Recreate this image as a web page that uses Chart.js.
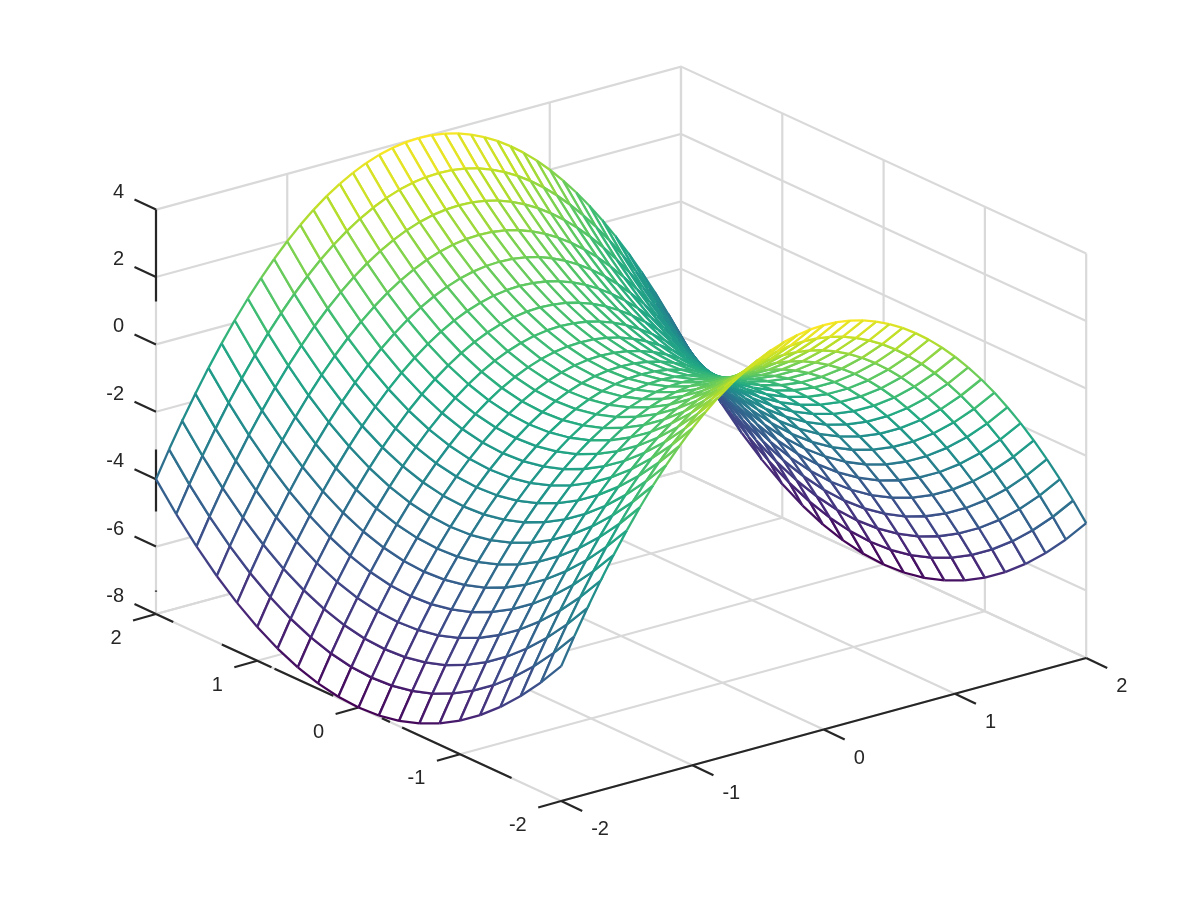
<!DOCTYPE html>
<html>
<head>
<meta charset="utf-8">
<title>Mesh</title>
<script src="https://cdn.jsdelivr.net/npm/chart.js@4"></script>
<style>
    html, body { margin: 0; padding: 0; background: #fff; }
    #wrap { width: 1200px; height: 900px; }
</style>
</head>
<body>
<div id="wrap"><canvas id="mesh" width="1200" height="900"></canvas></div>
<script>
/* ---- data ---- */
const xValues = [-2, -1.9, -1.8, -1.7, -1.6, -1.5, -1.4, -1.3, -1.2, -1.1, -1, -0.9, -0.8, -0.7, -0.6, -0.5, -0.4, -0.3, -0.2, -0.1, 0, 0.1, 0.2, 0.3, 0.4, 0.5, 0.6, 0.7, 0.8, 0.9, 1, 1.1, 1.2, 1.3, 1.4, 1.5, 1.6, 1.7, 1.8, 1.9, 2];
const yValues = [-2, -1.8, -1.6, -1.4, -1.2, -1, -0.8, -0.6, -0.4, -0.2, 0, 0.2, 0.4, 0.6, 0.8, 1, 1.2, 1.4, 1.6, 1.8, 2];
// z along x, one list per |y| (the picture looks the same on both sides of y=0)
const zAtY20 = [-4, -3.22, -2.48, -1.78, -1.12, -0.5, 0.08, 0.62, 1.12, 1.58, 2, 2.38, 2.72, 3.02, 3.28, 3.5, 3.68, 3.82, 3.92, 3.98, 4, 3.98, 3.92, 3.82, 3.68, 3.5, 3.28, 3.02, 2.72, 2.38, 2, 1.58, 1.12, 0.62, 0.08, -0.5, -1.12, -1.78, -2.48, -3.22, -4];
const zAtY18 = [-4.76, -3.98, -3.24, -2.54, -1.88, -1.26, -0.68, -0.14, 0.36, 0.82, 1.24, 1.62, 1.96, 2.26, 2.52, 2.74, 2.92, 3.06, 3.16, 3.22, 3.24, 3.22, 3.16, 3.06, 2.92, 2.74, 2.52, 2.26, 1.96, 1.62, 1.24, 0.82, 0.36, -0.14, -0.68, -1.26, -1.88, -2.54, -3.24, -3.98, -4.76];
const zAtY16 = [-5.44, -4.66, -3.92, -3.22, -2.56, -1.94, -1.36, -0.82, -0.32, 0.14, 0.56, 0.94, 1.28, 1.58, 1.84, 2.06, 2.24, 2.38, 2.48, 2.54, 2.56, 2.54, 2.48, 2.38, 2.24, 2.06, 1.84, 1.58, 1.28, 0.94, 0.56, 0.14, -0.32, -0.82, -1.36, -1.94, -2.56, -3.22, -3.92, -4.66, -5.44];
const zAtY14 = [-6.04, -5.26, -4.52, -3.82, -3.16, -2.54, -1.96, -1.42, -0.92, -0.46, -0.04, 0.34, 0.68, 0.98, 1.24, 1.46, 1.64, 1.78, 1.88, 1.94, 1.96, 1.94, 1.88, 1.78, 1.64, 1.46, 1.24, 0.98, 0.68, 0.34, -0.04, -0.46, -0.92, -1.42, -1.96, -2.54, -3.16, -3.82, -4.52, -5.26, -6.04];
const zAtY12 = [-6.56, -5.78, -5.04, -4.34, -3.68, -3.06, -2.48, -1.94, -1.44, -0.98, -0.56, -0.18, 0.16, 0.46, 0.72, 0.94, 1.12, 1.26, 1.36, 1.42, 1.44, 1.42, 1.36, 1.26, 1.12, 0.94, 0.72, 0.46, 0.16, -0.18, -0.56, -0.98, -1.44, -1.94, -2.48, -3.06, -3.68, -4.34, -5.04, -5.78, -6.56];
const zAtY10 = [-7, -6.22, -5.48, -4.78, -4.12, -3.5, -2.92, -2.38, -1.88, -1.42, -1, -0.62, -0.28, 0.02, 0.28, 0.5, 0.68, 0.82, 0.92, 0.98, 1, 0.98, 0.92, 0.82, 0.68, 0.5, 0.28, 0.02, -0.28, -0.62, -1, -1.42, -1.88, -2.38, -2.92, -3.5, -4.12, -4.78, -5.48, -6.22, -7];
const zAtY08 = [-7.36, -6.58, -5.84, -5.14, -4.48, -3.86, -3.28, -2.74, -2.24, -1.78, -1.36, -0.98, -0.64, -0.34, -0.08, 0.14, 0.32, 0.46, 0.56, 0.62, 0.64, 0.62, 0.56, 0.46, 0.32, 0.14, -0.08, -0.34, -0.64, -0.98, -1.36, -1.78, -2.24, -2.74, -3.28, -3.86, -4.48, -5.14, -5.84, -6.58, -7.36];
const zAtY06 = [-7.64, -6.86, -6.12, -5.42, -4.76, -4.14, -3.56, -3.02, -2.52, -2.06, -1.64, -1.26, -0.92, -0.62, -0.36, -0.14, 0.04, 0.18, 0.28, 0.34, 0.36, 0.34, 0.28, 0.18, 0.04, -0.14, -0.36, -0.62, -0.92, -1.26, -1.64, -2.06, -2.52, -3.02, -3.56, -4.14, -4.76, -5.42, -6.12, -6.86, -7.64];
const zAtY04 = [-7.84, -7.06, -6.32, -5.62, -4.96, -4.34, -3.76, -3.22, -2.72, -2.26, -1.84, -1.46, -1.12, -0.82, -0.56, -0.34, -0.16, -0.02, 0.08, 0.14, 0.16, 0.14, 0.08, -0.02, -0.16, -0.34, -0.56, -0.82, -1.12, -1.46, -1.84, -2.26, -2.72, -3.22, -3.76, -4.34, -4.96, -5.62, -6.32, -7.06, -7.84];
const zAtY02 = [-7.96, -7.18, -6.44, -5.74, -5.08, -4.46, -3.88, -3.34, -2.84, -2.38, -1.96, -1.58, -1.24, -0.94, -0.68, -0.46, -0.28, -0.14, -0.04, 0.02, 0.04, 0.02, -0.04, -0.14, -0.28, -0.46, -0.68, -0.94, -1.24, -1.58, -1.96, -2.38, -2.84, -3.34, -3.88, -4.46, -5.08, -5.74, -6.44, -7.18, -7.96];
const zAtY00 = [-8, -7.22, -6.48, -5.78, -5.12, -4.5, -3.92, -3.38, -2.88, -2.42, -2, -1.62, -1.28, -0.98, -0.72, -0.5, -0.32, -0.18, -0.08, -0.02, 0, -0.02, -0.08, -0.18, -0.32, -0.5, -0.72, -0.98, -1.28, -1.62, -2, -2.42, -2.88, -3.38, -3.92, -4.5, -5.12, -5.78, -6.48, -7.22, -8];
// one row per y value in yValues
const zRows = [zAtY20, zAtY18, zAtY16, zAtY14, zAtY12, zAtY10, zAtY08, zAtY06, zAtY04, zAtY02, zAtY00, zAtY02, zAtY04, zAtY06, zAtY08, zAtY10, zAtY12, zAtY14, zAtY16, zAtY18, zAtY20];
const xTicks = [-2, -1, 0, 1, 2];
const yTicks = [-2, -1, 0, 1, 2];
const zTicks = [-8, -6, -4, -2, 0, 2, 4];
// stretches of the axes that show up black in the picture, the rest is just grid grey
const zAxisBlack = [[4, 1.27], [-3.12, -4.96], [-7.3, -7.34]];
const yAxisBlack = [[2, 1.83], [1.35, 0.86], [0.83, 0.25], [-0.23, -0.31], [-0.43, -1.51]];

/* ---- view: orthographic, az -37.5 el 30, in page pixels ---- */
const ORIGIN = { x: 561.2, y: 801 };     // x=-2, y=-2, z=-8
const X_STEP = { x: 131.25, y: -35.75 }; // per x unit
const Y_STEP = { x: -101.3, y: -46.75 }; // per y unit
const Z_STEP = -33.7;                    // per z unit

const GRID = '#d9d9d9';
const AXIS = '#262626';
const FONT = '20px "Liberation Sans"';
const VIRIDIS = ['#440154', '#482475', '#414487', '#355f8d', '#2a788e', '#21918c', '#22a884', '#44bf70', '#7ad151', '#bddf26', '#fde725'];

function project(x, y, z) {
    return {
        x: ORIGIN.x + (x + 2) * X_STEP.x + (y + 2) * Y_STEP.x,
        y: ORIGIN.y + (x + 2) * X_STEP.y + (y + 2) * Y_STEP.y + (z + 8) * Z_STEP
    };
}

// bigger = closer to the viewer
function depth(x, y, z) {
    return -0.527 * x / 4 - 0.687 * y / 4 + 0.5 * z / 12;
}

function hex(c) {
    return [1, 3, 5].map(i => parseInt(c.substr(i, 2), 16));
}

function colorFor(z) {
    const t = Math.min(Math.max((z + 8) / 12, 0), 1) * (VIRIDIS.length - 1);
    const i = Math.min(Math.floor(t), VIRIDIS.length - 2);
    const a = hex(VIRIDIS[i]), b = hex(VIRIDIS[i + 1]), f = t - i;
    return `rgb(${a.map((v, k) => Math.round(v + (b[k] - v) * f)).join(',')})`;
}

function lineSet(points, color, width) {
    return { data: points, borderColor: color, borderWidth: width, fill: false, pointRadius: 0, showLine: true, tension: 0, borderCapStyle: 'butt' };
}

function surfaceSets() {
    const quads = [];
    for (let j = 0; j < yValues.length - 1; j++) {
        for (let i = 0; i < xValues.length - 1; i++) {
            const corners = [[i, j], [i + 1, j], [i + 1, j + 1], [i, j + 1], [i, j]];
            const zs = corners.map(c => zRows[c[1]][c[0]]);
            const pts = corners.map((c, k) => project(xValues[c[0]], yValues[c[1]], zs[k]));
            const edgeColors = zs.slice(0, 4).map((z, k) => colorFor((z + zs[k + 1]) / 2));
            const d = corners.slice(0, 4).reduce((s, c, k) => s + depth(xValues[c[0]], yValues[c[1]], zs[k]), 0) / 4;
            quads.push({ d, pts, edgeColors });
        }
    }
    // datasets paint from the last one to the first, so the nearest quads go first
    quads.sort((a, b) => b.d - a.d);
    return quads.map(q => ({
        data: q.pts,
        showLine: true,
        tension: 0,
        pointRadius: 0,
        borderWidth: 2.3,
        borderColor: q.edgeColors[0],
        quadFill: '#fff',
        fill: false,
        segment: { borderColor: ctx => q.edgeColors[ctx.p0DataIndex] }
    }));
}

function axisSets() {
    const sets = [];
    const w = 2.2;
    // x axis along the front right
    sets.push(lineSet([project(-2, -2, -8), project(2, -2, -8)], AXIS, w));
    zAxisBlack.forEach(r => sets.push(lineSet([project(-2, 2, r[0]), project(-2, 2, r[1])], AXIS, w)));
    yAxisBlack.forEach(r => sets.push(lineSet([project(-2, r[0], -8), project(-2, r[1], -8)], AXIS, w)));
    xTicks.forEach(v => {
        const p = project(v, -2, -8);
        sets.push(lineSet([p, { x: p.x + 21, y: p.y + 10 }], AXIS, w));
    });
    yTicks.forEach(v => {
        const p = project(-2, v, -8);
        sets.push(lineSet([p, { x: p.x - 23, y: p.y + 6.5 }], AXIS, w));
    });
    zTicks.forEach(v => {
        const p = project(-2, 2, v);
        sets.push(lineSet([p, { x: p.x - 21.5, y: p.y - 10 }], AXIS, w));
    });
    return sets;
}

function gridSets() {
    const sets = [];
    const w = 2.2;
    xTicks.forEach(v => {
        sets.push(lineSet([project(v, -2, -8), project(v, 2, -8), project(v, 2, 4)], GRID, w));
    });
    yTicks.forEach(v => {
        sets.push(lineSet([project(-2, v, -8), project(2, v, -8), project(2, v, 4)], GRID, w));
    });
    zTicks.forEach(v => {
        sets.push(lineSet([project(-2, 2, v), project(2, 2, v), project(2, -2, v)], GRID, w));
    });
    return sets;
}

// white face under each mesh cell, so cells hide what is behind them
const quadFaces = {
    id: 'quadFaces',
    beforeDatasetDraw(chart, args) {
        const ds = chart.data.datasets[args.index];
        if (!ds.quadFill) return;
        const { ctx } = chart;
        ctx.save();
        ctx.beginPath();
        args.meta.data.forEach((pt, i) => (i ? ctx.lineTo(pt.x, pt.y) : ctx.moveTo(pt.x, pt.y)));
        ctx.closePath();
        ctx.fillStyle = ds.quadFill;
        ctx.fill();
        ctx.restore();
    }
};

// tick labels, placed through the chart's scales
const tickLabels = {
    id: 'tickLabels',
    afterDraw(chart) {
        const { ctx, scales } = chart;
        const put = (text, p, dx, dy, align) => {
            ctx.textAlign = align;
            ctx.fillText(text, scales.x.getPixelForValue(p.x + dx), scales.y.getPixelForValue(p.y + dy));
        };
        ctx.save();
        ctx.font = FONT;
        ctx.fillStyle = AXIS;
        ctx.textBaseline = 'middle';
        xTicks.forEach(v => put(String(v), project(v, -2, -8), 30, 28.5, 'left'));
        yTicks.forEach(v => put(String(v), project(-2, v, -8), -34.5, 24.5, 'right'));
        zTicks.forEach(v => put(String(v), project(-2, 2, v), -32, -17.5, 'right'));
        ctx.restore();
    }
};

new Chart(document.getElementById('mesh'), {
    type: 'scatter',
    data: { datasets: [...surfaceSets(), ...axisSets(), ...gridSets()] },
    plugins: [quadFaces, tickLabels],
    options: {
        responsive: false,
        animation: false,
        layout: { padding: 0 },
        events: [],
        plugins: {
            legend: { display: false },
            tooltip: { enabled: false }
        },
        scales: {
            x: { type: 'linear', min: 0, max: 1200, display: false },
            y: { type: 'linear', min: 0, max: 900, reverse: true, display: false }
        }
    }
});
</script>
</body>
</html>
